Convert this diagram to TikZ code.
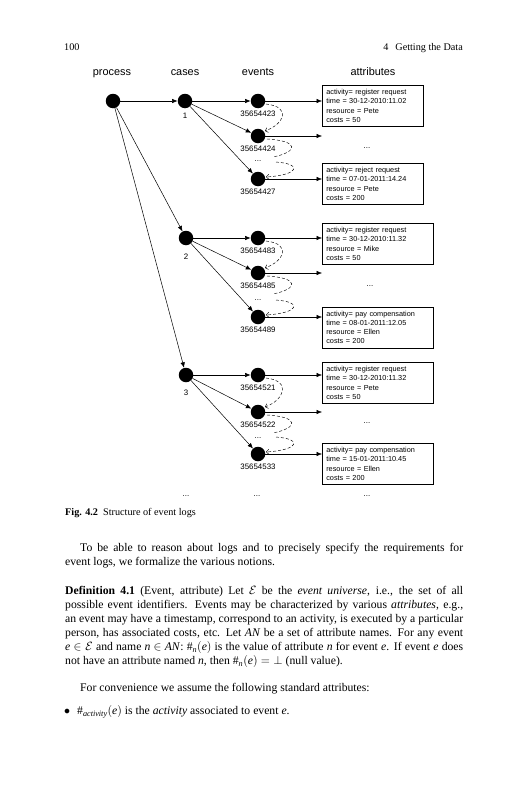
\documentclass[tikz,border=0pt]{standalone}
\usepackage{amsmath}
\usepackage{fontspec}
\setmainfont{Liberation Serif}
\newfontfamily\diag{Liberation Sans}
\usetikzlibrary{arrows.meta,calc}
\begin{document}
\begin{tikzpicture}[x=1pt,y=-1pt,
  ev/.style={circle,fill=black,inner sep=0pt,minimum size=14.5pt},
  arr/.style={-{Latex[length=5.5pt,width=4.5pt]},line width=0.5pt},
  dsh/.style={dash pattern=on 3pt off 2pt, line width=0.45pt, -{Straight Barb[length=2.5pt,width=5pt]}},
  dshn/.style={dash pattern=on 3pt off 2pt, line width=0.45pt},
  lbl/.style={font=\diag\fontsize{7.9}{9}\selectfont, inner sep=0pt},
  attr/.style={draw, line width=0.6pt, anchor=north west, align=left, font=\diag\fontsize{7.3}{9.3}\selectfont, inner xsep=4pt, inner ysep=4pt, text width=#1},
  hdr/.style={font=\diag\fontsize{10.9}{12}\selectfont, anchor=base, inner sep=0pt},
  body/.style={font=\fontsize{11.7}{14}\selectfont, anchor=base west, inner sep=0pt},
  small/.style={font=\fontsize{10.2}{12}\selectfont, inner sep=0pt},
]
\fill[white] (0,0) rectangle (527,800);
\useasboundingbox (0,0) rectangle (527,800);

% running head
\node[small, anchor=base west] (pg) at (64,50.5) {100};
\node[small, anchor=base east] (rh) at (463,50.5) {4\hspace{7pt}Getting the Data};

% column headers
\node[hdr] (hp) at (112,75.5) {process};
\node[hdr] (hc) at (185,75.5) {cases};
\node[hdr] (he) at (258,75.5) {events};
\node[hdr] (ha) at (373,75.5) {attributes};

% process and cases
\node[ev] (P) at (113,101) {};
\node[ev] (C1) at (185,101) {};
\node[ev] (C2) at (186,238) {};
\node[ev] (C3) at (186,375) {};
\node[lbl] (n1) at (185,115.5) {1};
\node[lbl] (n2) at (186,256.5) {2};
\node[lbl] (n3) at (186,392.5) {3};

% events
\node[ev] (E11) at (258,101) {};
\node[ev] (E12) at (258,136) {};
\node[ev] (E13) at (258,179) {};
\node[ev] (E21) at (258,238) {};
\node[ev] (E22) at (258,273) {};
\node[ev] (E23) at (258,317) {};
\node[ev] (E31) at (258,375) {};
\node[ev] (E32) at (258,412) {};
\node[ev] (E33) at (258,454) {};

\node[lbl] (L11) at ($(E11)+(0,12.5)$) {35654423};
\node[lbl] (L12) at ($(E12)+(0,12.5)$) {35654424};
\node[lbl] (L13) at ($(E13)+(0,12.5)$) {35654427};
\node[lbl] (L21) at ($(E21)+(0,12.5)$) {35654483};
\node[lbl] (L22) at ($(E22)+(0,12.5)$) {35654485};
\node[lbl] (L23) at ($(E23)+(0,12.5)$) {35654489};
\node[lbl] (L31) at ($(E31)+(0,12.5)$) {35654521};
\node[lbl] (L32) at ($(E32)+(0,12.5)$) {35654522};
\node[lbl] (L33) at ($(E33)+(0,12.5)$) {35654533};

\node[lbl, anchor=base] (v1) at (258,161) {...};
\node[lbl, anchor=base] (v2) at (258,300) {...};
\node[lbl, anchor=base] (v3) at (258,438) {...};

% attribute boxes
\node[attr=93pt] (B11) at (322,85) {activity= register request\\time = 30-12-2010:11.02\\resource = Pete\\costs = 50};
\node[attr=93pt] (B13) at (322,163) {activity= reject request\\time = 07-01-2011:14.24\\resource = Pete\\costs = 200};
\node[attr=103pt] (B21) at (322,223) {activity= register request\\time = 30-12-2010:11.32\\resource = Mike\\costs = 50};
\node[attr=103pt] (B23) at (322,306.5) {activity= pay compensation\\time = 08-01-2011:12.05\\resource = Ellen\\costs = 200};
\node[attr=103pt] (B31) at (322,362) {activity= register request\\time = 30-12-2010:11.32\\resource = Pete\\costs = 50};
\node[attr=103pt] (B33) at (322,443) {activity= pay compensation\\time = 15-01-2011:10.45\\resource = Ellen\\costs = 200};

\coordinate (M1) at (322,136);
\coordinate (M2) at (322,273);
\coordinate (M3) at (322,412);
\node[lbl, anchor=base] (r1) at (367,148) {...};
\node[lbl, anchor=base] (r2) at (370,286) {...};
\node[lbl, anchor=base] (r3) at (367,423) {...};

\node[lbl, anchor=base] (b1) at (186,496) {...};
\node[lbl, anchor=base] (b2) at (257,496) {...};
\node[lbl, anchor=base] (b3) at (367,496) {...};

% connectors
\draw[arr] (P) -- (C1);
\draw[arr] (P) -- (C2);
\draw[arr] (P) -- (C3);
\foreach \c/\a/\b/\d in {C1/E11/E12/E13, C2/E21/E22/E23, C3/E31/E32/E33}{
  \draw[arr] (\c) -- (\a);
  \draw[arr] (\c) -- (\b);
  \draw[arr] (\c) -- (\d);
  \draw[dsh] ($(\a)+(8,3)$) .. controls ($(\a)+(34,6)$) and ($(\b)+(26,-12)$) .. ($(\b)+(7,-5)$);
  \draw[dshn] ($(\b)+(9,3)$) .. controls ($(\b)+(42,5)$) and ($(\b)+(40,16)$) .. ($(\b)+(15,21)$);
  \draw[dsh] ($(\d)+(18,-17)$) .. controls ($(\d)+(45,-15)$) and ($(\d)+(41,-4)$) .. ($(\d)+(8,-2)$);
}
\draw[arr] (E11) -- (E11 -| B11.west);
\draw[arr] (E12) -- (M1);
\draw[arr] (E13) -- (E13 -| B13.west);
\draw[arr] (E21) -- (E21 -| B21.west);
\draw[arr] (E22) -- (M2);
\draw[arr] (E23) -- (E23 -| B23.west);
\draw[arr] (E31) -- (E31 -| B31.west);
\draw[arr] (E32) -- (M3);
\draw[arr] (E33) -- (E33 -| B33.west);

% caption
\node[small, anchor=base west, font=\bfseries\fontsize{10.2}{12}\selectfont] (cap1) at (65,515.5) {Fig. 4.2};
\node[small, anchor=base west] (cap2) at (103,515.5) {Structure of event logs};

% body text
\node[body] (t1) at (80,551.5) {\makebox[383pt][s]{To be able to reason about logs and to precisely specify the requirements for}};
\node[body] (t2) at (65,565.5) {event logs, we formalize the various notions.};
\node[body] (d1) at (65,594.5) {\makebox[398pt][s]{\textbf{Definition 4.1} (Event, attribute) Let $\mathcal{E}$ be the \textit{event universe}, i.e., the set of all}};
\node[body] (d2) at (65,608.5) {\makebox[398pt][s]{possible event identifiers. Events may be characterized by various \textit{attributes}, e.g.,}};
\node[body] (d3) at (65,622.5) {\makebox[398pt][s]{an event may have a timestamp, correspond to an activity, is executed by a particular}};
\node[body] (d4) at (65,636.5) {\makebox[398pt][s]{person, has associated costs, etc. Let \textit{AN} be a set of attribute names. For any event}};
\node[body] (d5) at (65,650.5) {\makebox[398pt][s]{\textit{e} $\in\mathcal{E}$ and name \textit{n} $\in$ \textit{AN}: $\#_{\textit{n}}(\textit{e})$ is the value of attribute \textit{n} for event \textit{e}. If event \textit{e} does}};
\node[body] (d6) at (65,664.5) {not have an attribute named \textit{n}, then $\#_{\textit{n}}(\textit{e}) = \bot$ (null value).};
\node[body] (f1) at (80,691.5) {For convenience we assume the following standard attributes:};
\node[body] (bu) at (64,714.5) {$\bullet$};
\node[body] (f2) at (77,714.5) {$\#_{\textit{activity}}(\textit{e})$ is the \textit{activity} associated to event \textit{e}.};
\end{tikzpicture}
\end{document}
